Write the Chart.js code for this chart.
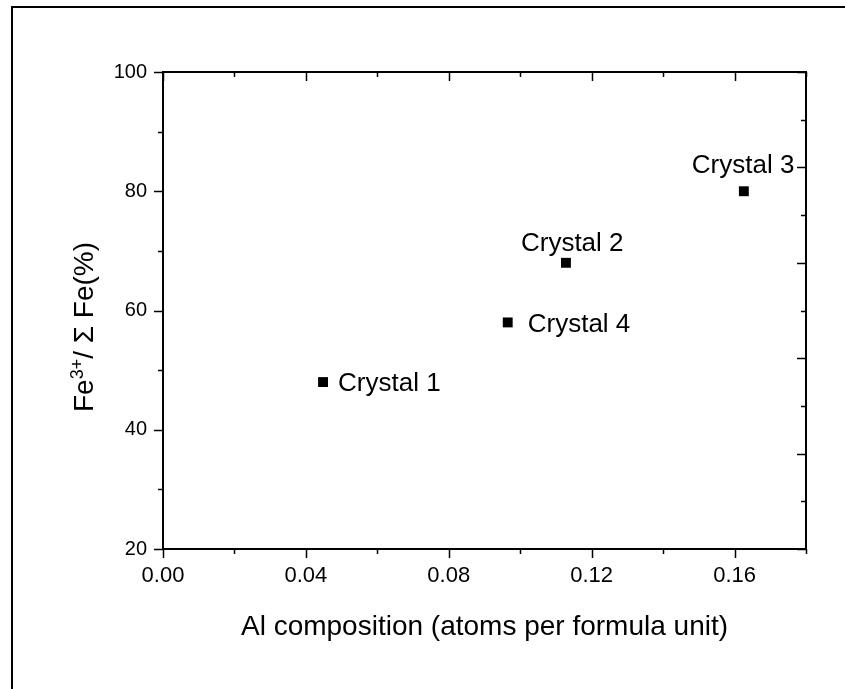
<!DOCTYPE html>
<html>
<head>
<meta charset="utf-8">
<script src="https://cdn.jsdelivr.net/npm/chart.js@4.4.1/dist/chart.umd.min.js"></script>
<style>
  html, body { margin: 0; padding: 0; background: #fff; }
  canvas { display: block; }
</style>
</head>
<body>
<canvas id="myChart" width="845" height="689"></canvas>
<script>
/* global Chart */

// data
const crystals = ['Crystal 1', 'Crystal 2', 'Crystal 3', 'Crystal 4'];
const alComposition = [0.0448, 0.1128, 0.1626, 0.0965];
const fe3Ratio = [48, 68, 80, 58];

const xTickLabels = ['0.00', '0.04', '0.08', '0.12', '0.16'];
const yTickLabels = ['20', '40', '60', '80', '100'];

const FONT = 'Arial, "Liberation Sans", sans-serif';

// where each crystal's label sits relative to its marker
const labelOffset = {
  'Crystal 1': [15, 9],
  'Crystal 2': [-45, -12],
  'Crystal 3': [-52, -18],
  'Crystal 4': [20, 10]
};

const framePlugin = {
  id: 'frame',
  afterDraw(chart) {
    const ctx = chart.ctx;
    const a = chart.chartArea;
    const x = chart.scales.x;
    const y = chart.scales.y;
    ctx.save();
    ctx.strokeStyle = '#000';

    // figure border, left and top only
    ctx.lineWidth = 2;
    ctx.beginPath();
    ctx.moveTo(12, 689);
    ctx.lineTo(12, 7);
    ctx.lineTo(845, 7);
    ctx.stroke();

    // plot box
    ctx.strokeRect(a.left, a.top, a.right - a.left, a.bottom - a.top);

    ctx.lineWidth = 1.5;
    ctx.beginPath();
    // bottom (outward) and top (inward) ticks
    for (let i = 0; i <= 9; i++) {
      const px = Math.round(x.getPixelForValue(i * 0.02)) + 0.5;
      const len = i % 2 === 0 ? 9 : 5;
      ctx.moveTo(px, a.bottom); ctx.lineTo(px, a.bottom + len);
      ctx.moveTo(px, a.top); ctx.lineTo(px, a.top + len);
    }
    // left ticks (outward)
    for (let v = 20; v <= 100; v += 10) {
      const py = Math.round(y.getPixelForValue(v)) + 0.5;
      const len = v % 20 === 0 ? 9 : 5;
      ctx.moveTo(a.left, py); ctx.lineTo(a.left - len, py);
    }
    // right ticks (inward), own spacing of 8
    for (let v = 20; v <= 100; v += 8) {
      const py = Math.round(y.getPixelForValue(v)) + 0.5;
      const len = (v - 20) % 16 === 0 ? 9 : 5;
      ctx.moveTo(a.right, py); ctx.lineTo(a.right - len, py);
    }
    ctx.stroke();

    // crystal labels
    ctx.fillStyle = '#000';
    ctx.font = '26px ' + FONT;
    ctx.textAlign = 'left';
    ctx.textBaseline = 'alphabetic';
    crystals.forEach(function(name, i) {
      const px = x.getPixelForValue(alComposition[i]);
      const py = y.getPixelForValue(fe3Ratio[i]);
      const off = labelOffset[name];
      ctx.fillText(name, px + off[0], py + off[1]);
    });

    // x title
    ctx.font = '28px ' + FONT;
    ctx.textAlign = 'center';
    ctx.fillText('Al composition (atoms per formula unit)', (a.left + a.right) / 2, 635);

    // y title, rotated, with superscript
    ctx.translate(93, 412);
    ctx.rotate(-Math.PI / 2);
    ctx.textAlign = 'left';
    let cx = 0;
    ctx.font = '28px ' + FONT;
    ctx.fillText('Fe', cx, 0);
    cx += ctx.measureText('Fe').width;
    ctx.font = '18px ' + FONT;
    ctx.fillText('3+', cx, -10);
    cx += ctx.measureText('3+').width;
    ctx.font = '28px ' + FONT;
    ctx.fillText('/ \u03A3 Fe(%)', cx, 0);
    ctx.restore();
  }
};

const ctx = document.getElementById('myChart').getContext('2d');

const chart = new Chart(ctx, {
  type: 'scatter',
  data: {
    datasets: [{
      label: 'Fe3+ / Fe',
      data: alComposition.map(function(v, i) { return { x: v, y: fe3Ratio[i] }; }),
      pointStyle: 'rect',
      pointRadius: 7,
      pointHoverRadius: 7,
      pointBorderWidth: 0,
      backgroundColor: '#000',
      borderColor: '#000'
    }]
  },
  options: {
    responsive: false,
    animation: false,
    devicePixelRatio: 1,
    layout: { padding: { left: 0, top: 72, right: 39, bottom: 0 } },
    plugins: {
      legend: { display: false },
      tooltip: { enabled: false }
    },
    scales: {
      x: {
        type: 'linear',
        min: 0,
        max: 0.18,
        grid: { display: false, drawTicks: false },
        border: { display: false },
        ticks: {
          stepSize: 0.02,
          autoSkip: false,
          maxRotation: 0,
          padding: 14,
          color: '#000',
          font: { family: FONT, size: 22 },
          callback: function(v) {
            const k = Math.round(v * 100);
            return k % 4 === 0 ? xTickLabels[k / 4] : '';
          }
        },
        afterFit: function(s) { s.height = 140; }
      },
      y: {
        type: 'linear',
        min: 20,
        max: 100,
        grid: { display: false, drawTicks: false },
        border: { display: false },
        ticks: {
          stepSize: 20,
          autoSkip: false,
          padding: 16,
          color: '#000',
          font: { family: FONT, size: 20 },
          callback: function(v) {
            return yTickLabels[(v - 20) / 20];
          }
        },
        afterFit: function(s) { s.width = 163; }
      }
    }
  },
  plugins: [framePlugin]
});
</script>
</body>
</html>
